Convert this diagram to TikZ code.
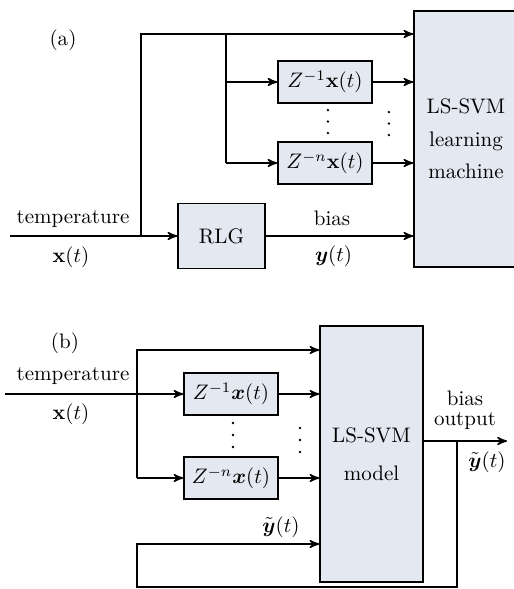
\documentclass[tikz,border=0pt]{standalone}
\usepackage{amsmath}
\usepackage{tikz}
\usetikzlibrary{arrows,positioning}
\definecolor{boxfill}{HTML}{E3E8F1}

\tikzset{
  blk/.style={draw, fill=boxfill, line width=0.7pt, inner sep=0pt, align=center},
  zblk/.style={blk, minimum width=44.7pt, minimum height=20pt},
  svm/.style={blk, minimum width=49.5pt, minimum height=121.9pt},
  conn/.style={line width=0.7pt, -stealth'},
  wire/.style={line width=0.7pt},
}

\begin{document}
\begin{tikzpicture}[x=0.476pt,y=-0.476pt]
\clip (0,0) rectangle (514,589);

% (a)
\node (taga) at (63,40) {(a)};
\node[svm] (lsa) at (466,139) {LS-SVM\\[3.5pt]learning\\[3.5pt]machine};
\node[zblk] (za1) at (325,82) {$Z^{-1}\mathbf{x}(t)$};
\node[zblk] (zan) at (325,163) {$Z^{-n}\mathbf{x}(t)$};
\node[blk, minimum width=41.4pt, minimum height=30.9pt] (rlg) at (221.5,236) {RLG};
\node (tempa) at (73,219) {temperature};
\node (xa) at (71,257) {$\mathbf{x}(t)$};
\coordinate (ina) at (10,236);
\coordinate (ba1) at (141,236);
\coordinate (topa) at (141,34);
\coordinate (ba2) at (226,34);
\coordinate (ba3) at (226,163);
\draw[conn] (ina) -- (rlg.west);
\draw[conn] (ba1) -- (topa) -- (topa -| lsa.west);
\draw[wire] (ba2) -- (ba3);
\draw[conn] (ba2 |- za1.west) -- (za1.west);
\draw[conn] (ba3) -- (zan.west);
\draw[conn] (za1.east) -- (za1.east -| lsa.west);
\draw[conn] (zan.east) -- (zan.east -| lsa.west);
\draw[conn] (rlg.east) -- (rlg.east -| lsa.west)
  node[pos=0.45, above=1pt] {bias}
  node[pos=0.46, below=1pt] {$\boldsymbol{y}(t)$};
\foreach \y in {110,121.5,133} \fill (328,\y) circle (0.6pt);
\foreach \y in {112,123.5,135} \fill (389,\y) circle (0.6pt);

% (b)
\node (tagb) at (65,343) {(b)};
\node[svm, minimum width=49pt] (model) at (371.5,454) {LS-SVM\\[6pt]model};
\node[zblk] (zb1) at (231,394) {$Z^{-1}\boldsymbol{x}(t)$};
\node[zblk] (zbn) at (231,478) {$Z^{-n}\boldsymbol{x}(t)$};
\node (tempb) at (73,376) {temperature};
\node (xb) at (71,414) {$\mathbf{x}(t)$};
\coordinate (inb) at (5,394);
\coordinate (topb) at (137,350);
\coordinate (botb) at (137,478);
\coordinate (yout) at (507,441);
\coordinate (fb) at (457,441);
\coordinate (fbl) at (137,587);
\coordinate (fbu) at (137,544);
\draw[conn] (inb) -- (zb1.west);
\draw[conn] (botb) -- (topb) -- (topb -| model.west);
\draw[conn] (botb) -- (zbn.west);
\draw[conn] (zb1.east) -- (zb1.east -| model.west);
\draw[conn] (zbn.east) -- (zbn.east -| model.west);
\draw[conn] (model.east |- yout) -- (yout);
\draw[conn] (fb) |- (fbl) -- (fbu) -- (fbu -| model.west);
\node (biasb) at (465,398) {bias};
\node (outb) at (465,421) {output};
\node (yb) at (487,462) {$\tilde{\boldsymbol{y}}(t)$};
\node (yfb) at (281,527) {$\tilde{\boldsymbol{y}}(t)$};
\foreach \y in {423,435,447} \fill (233,\y) circle (0.6pt);
\foreach \y in {428,440,452} \fill (300,\y) circle (0.6pt);
\end{tikzpicture}
\end{document}
